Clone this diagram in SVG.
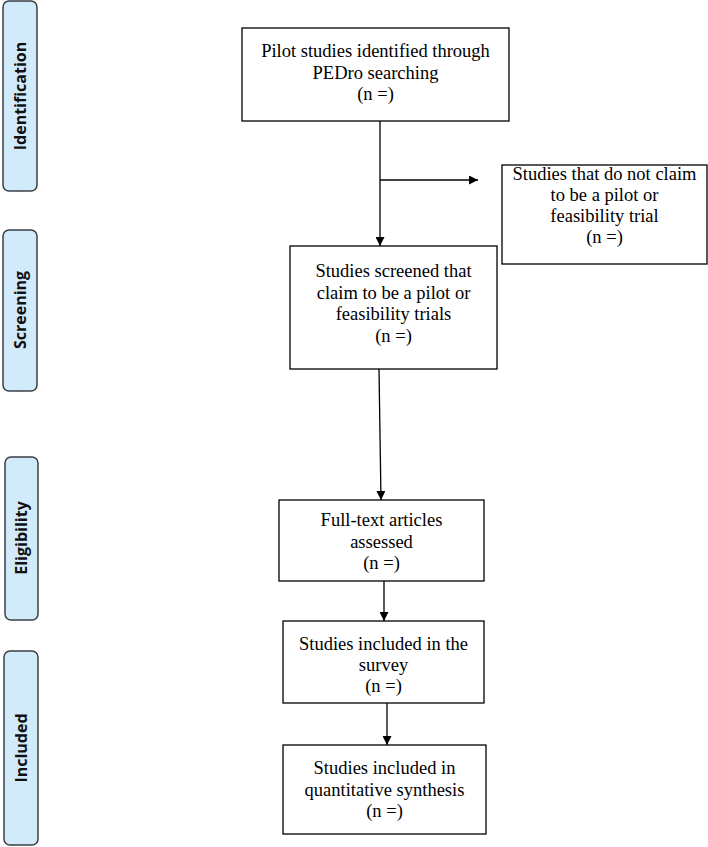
<svg xmlns="http://www.w3.org/2000/svg" width="708" height="847" viewBox="0 0 708 847">
<style>
.side rect{fill:#d2ebfb;stroke:#3a3f44;stroke-width:1.5}
.side text{font-family:"Open Sans","Liberation Sans",sans-serif;font-weight:bold;font-size:16px;fill:#111;text-anchor:middle}
.node rect{fill:#fff;stroke:#000;stroke-width:1.3}
.node text{font-family:"Liberation Serif",serif;font-size:18.5px;fill:#000;text-anchor:middle}
#connectors line{stroke:#000;stroke-width:1.3;marker-end:url(#ah)}
</style>
<defs><marker id="ah" viewBox="0 0 10 10" refX="10" refY="5" markerWidth="9" markerHeight="9" markerUnits="userSpaceOnUse" orient="auto"><path d="M0,0L10,5L0,10z" fill="#000"/></marker></defs>
<rect width="708" height="847" fill="#fff"/>
<g id="side-identification" class="side"><rect x="3" y="1" width="34" height="190" rx="6"/><text transform="translate(26,96) rotate(-90)">Identification</text></g>
<g id="side-screening" class="side"><rect x="3" y="230" width="34" height="161" rx="6"/><text transform="translate(26,310) rotate(-90)">Screening</text></g>
<g id="side-eligibility" class="side"><rect x="5" y="457" width="33" height="163" rx="6"/><text transform="translate(27,538) rotate(-90)">Eligibility</text></g>
<g id="side-included" class="side"><rect x="4" y="651" width="34" height="194" rx="6"/><text transform="translate(27,748) rotate(-90)">Included</text></g>
<g id="n1" class="node"><rect x="242" y="28" width="267" height="93"/><text x="375.5" y="57">Pilot studies identified through</text><text x="375.5" y="79">PEDro searching</text><text x="375.5" y="100">(n =)</text></g>
<g id="n2" class="node"><rect x="502" y="165" width="205" height="99"/><text x="604.5" y="180">Studies that do not claim</text><text x="604.5" y="201">to be a pilot or</text><text x="604.5" y="222">feasibility trial</text><text x="604.5" y="243">(n =)</text></g>
<g id="n3" class="node"><rect x="290" y="246" width="207" height="123"/><text x="393.5" y="277">Studies screened that</text><text x="393.5" y="299">claim to be a pilot or</text><text x="393.5" y="320">feasibility trials</text><text x="393.5" y="342">(n =)</text></g>
<g id="n4" class="node"><rect x="279" y="500" width="205" height="81"/><text x="381.5" y="526">Full-text articles</text><text x="381.5" y="548">assessed</text><text x="381.5" y="569">(n =)</text></g>
<g id="n5" class="node"><rect x="283" y="621" width="201" height="82"/><text x="383.5" y="650">Studies included in the</text><text x="383.5" y="671">survey</text><text x="383.5" y="692">(n =)</text></g>
<g id="n6" class="node"><rect x="283" y="745" width="203" height="89"/><text x="384.5" y="774">Studies included in</text><text x="384.5" y="796">quantitative synthesis</text><text x="384.5" y="817">(n =)</text></g>
<g id="connectors">
<line x1="380" y1="121" x2="380" y2="246"/>
<line x1="380" y1="180" x2="478" y2="180"/>
<line x1="379" y1="369" x2="381" y2="500"/>
<line x1="384" y1="581" x2="384" y2="621"/>
<line x1="387" y1="703" x2="387" y2="745"/>
</g>
</svg>
